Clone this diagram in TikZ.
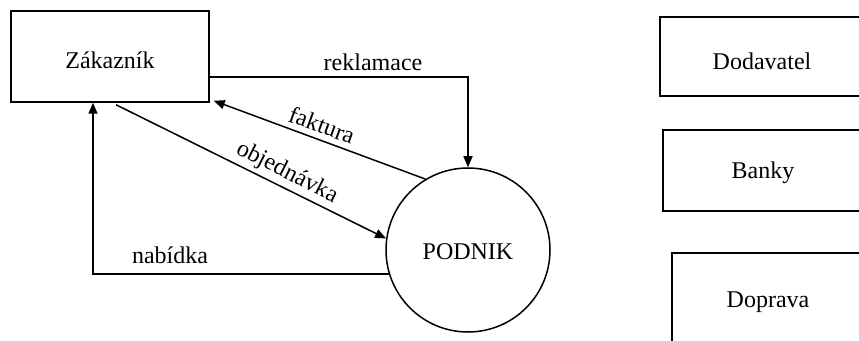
\documentclass[tikz,border=0pt]{standalone}
\usepackage{fontspec}
\setmainfont{Liberation Serif}
\usetikzlibrary{arrows.meta,calc}
\begin{document}
\begin{tikzpicture}[x=1pt,y=1pt,
  every node/.style={font=\fontsize{24}{28}\selectfont},
  entity/.style={draw,line width=1.5pt,rectangle,inner sep=0pt},
  flow/.style={line width=1.5pt,-{Triangle[length=11pt,width=9pt]}},
  lbl/.style={inner sep=0pt}]
\useasboundingbox (0,0) rectangle (859,340);
\clip (0,0) rectangle (859,340);
\fill[white] (0,0) rectangle (859,340);

% external entities and the process
\node[entity,minimum width=198,minimum height=91] (zak) at (110,283.5) {};
\node[lbl] (zaklbl) at (110,280) {Zákazník};
\node[draw,circle,line width=1.5pt,minimum size=164,inner sep=0pt] (pod) at (468,90) {};
\node[lbl] (podlbl) at (468,88) {PODNIK};

\node[entity,minimum width=204,minimum height=79] (dod) at (762,283.5) {};
\node[lbl] at (762,279) {Dodavatel};
\node[entity,minimum width=200,minimum height=81] (ban) at (763,169.5) {};
\node[lbl] at (763,167) {Banky};
\node[entity,minimum width=192,minimum height=98] (dop) at (768,38) {};
\node[lbl] at (768,38) {Doprava};

% data flows
\draw[flow] (zak.east |- 0,263) -| (pod.north);
\node[lbl] (rek) at (373,278) {reklamace};

\draw[flow] (pod.121) -- ($(zak.south east)+(4,2)$);
\node[lbl,rotate=-20] (fak) at (322,215) {faktura};

\draw[flow] ($(zak.south)+(6,-2)$) -- (pod.172);
\node[lbl,rotate=-27] (obj) at (287,167) {objednávka};

\draw[flow] (pod.197) -| ($(zak.south)+(-17,0)$);
\node[lbl] (nab) at (170,85) {nabídka};
\end{tikzpicture}
\end{document}
